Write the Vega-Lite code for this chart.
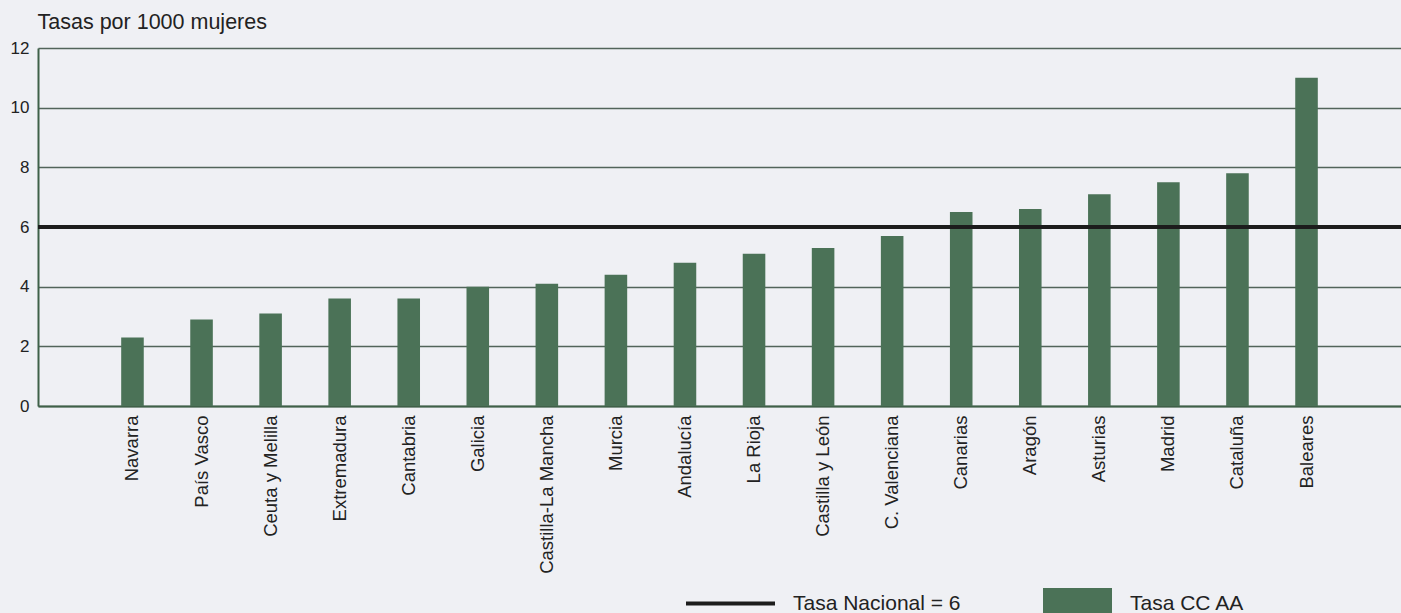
{
  "$schema": "https://vega.github.io/schema/vega-lite/v6.json",
  "autosize": "none",
  "width": 1363,
  "height": 358,
  "padding": {"left": 38, "top": 48, "right": 0, "bottom": 207},
  "background": "#eff0f4",
  "config": {
    "font": "Liberation Sans",
    "view": {"stroke": null},
    "axis": {"labelColor": "#222222", "ticks": false}
  },
  "data": {
    "values": [
      {"ccaa": "Navarra", "tasa": 2.3},
      {"ccaa": "País Vasco", "tasa": 2.9},
      {"ccaa": "Ceuta y Melilla", "tasa": 3.1},
      {"ccaa": "Extremadura", "tasa": 3.6},
      {"ccaa": "Cantabria", "tasa": 3.6},
      {"ccaa": "Galicia", "tasa": 4.0},
      {"ccaa": "Castilla-La Mancha", "tasa": 4.1},
      {"ccaa": "Murcia", "tasa": 4.4},
      {"ccaa": "Andalucía", "tasa": 4.8},
      {"ccaa": "La Rioja", "tasa": 5.1},
      {"ccaa": "Castilla y León", "tasa": 5.3},
      {"ccaa": "C. Valenciana", "tasa": 5.7},
      {"ccaa": "Canarias", "tasa": 6.5},
      {"ccaa": "Aragón", "tasa": 6.6},
      {"ccaa": "Asturias", "tasa": 7.1},
      {"ccaa": "Madrid", "tasa": 7.5},
      {"ccaa": "Cataluña", "tasa": 7.8},
      {"ccaa": "Baleares", "tasa": 11.0}
    ]
  },
  "layer": [
    {
      "mark": {"type": "bar", "width": {"band": 0.444}},
      "encoding": {
        "x": {
          "field": "ccaa",
          "type": "nominal",
          "sort": null,
          "scale": {"paddingInner": 0.264, "paddingOuter": 1},
          "axis": {
            "title": null,
            "labelAngle": -90,
            "labelFontSize": 18.5,
            "labelPadding": 9,
            "domainColor": "#3f6048",
            "domainWidth": 2,
            "grid": false
          }
        },
        "y": {
          "field": "tasa",
          "type": "quantitative",
          "scale": {"domain": [0, 12], "nice": false},
          "axis": {
            "values": [0, 2, 4, 6, 8, 10, 12],
            "title": "Tasas por 1000 mujeres",
            "titleAngle": 0,
            "titleAlign": "left",
            "titleBaseline": "alphabetic",
            "titleX": -1,
            "titleY": -20,
            "titleFontSize": 21.5,
            "titleFontWeight": "normal",
            "titleColor": "#222222",
            "labelFontSize": 17,
            "labelPadding": 9,
            "domainColor": "#3f6048",
            "domainWidth": 2,
            "grid": true,
            "gridColor": "#52645a",
            "gridWidth": 1.5
          }
        },
        "color": {
          "datum": "Tasa CC AA",
          "type": "nominal",
          "scale": {"range": ["#4b7257"]},
          "legend": {
            "orient": "none",
            "legendX": 1005,
            "legendY": 521,
            "title": null,
            "padding": 0,
            "symbolType": "M-1,-0.45H1V0.45H-1Z",
            "symbolSize": 4761,
            "symbolOpacity": 1,
            "symbolStrokeWidth": 0,
            "labelOffset": 18,
            "labelFontSize": 21,
            "labelColor": "#222222",
            "labelLimit": 400
          }
        }
      }
    },
    {
      "mark": {"type": "rule", "strokeWidth": 4},
      "encoding": {
        "y": {"datum": 6, "type": "quantitative"},
        "stroke": {
          "datum": "Tasa Nacional = 6",
          "type": "nominal",
          "scale": {"range": ["#1c1c1c"]},
          "legend": {
            "orient": "none",
            "legendX": 646,
            "legendY": 509,
            "title": null,
            "padding": 0,
            "symbolType": "stroke",
            "symbolSize": 7921,
            "symbolStrokeWidth": 4,
            "labelOffset": 16,
            "labelFontSize": 21,
            "labelColor": "#222222",
            "labelLimit": 400
          }
        }
      }
    }
  ]
}
